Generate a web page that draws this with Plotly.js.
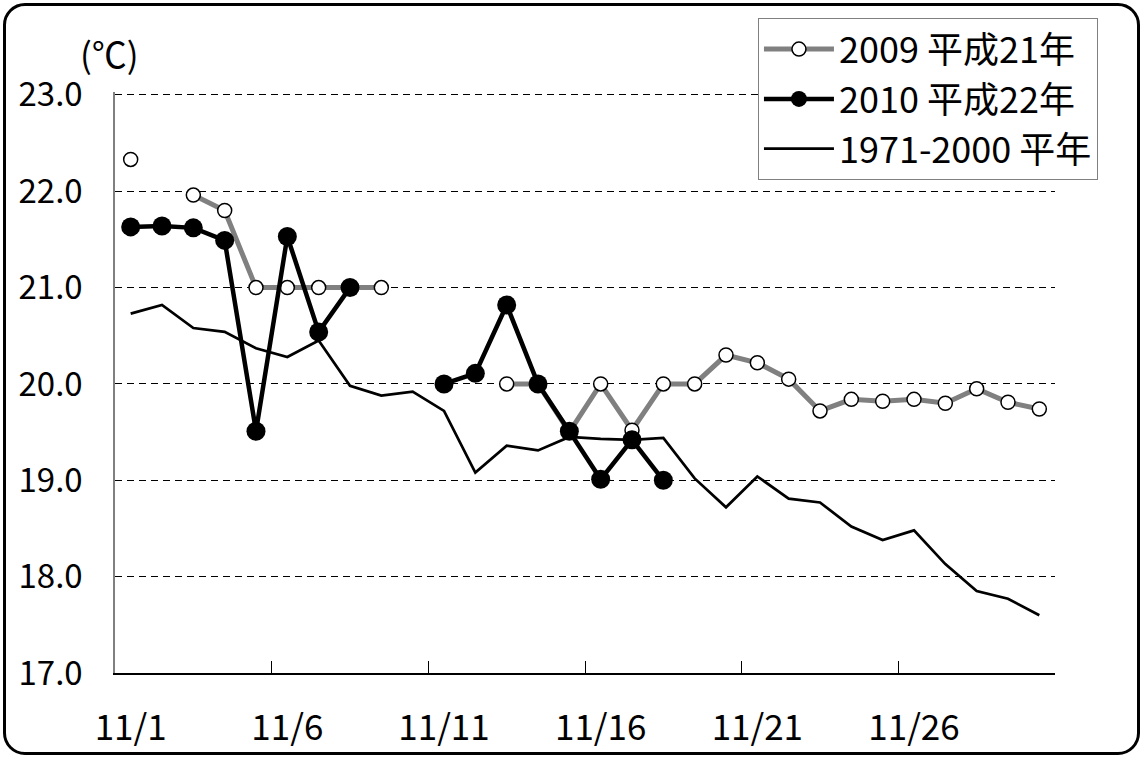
<!DOCTYPE html>
<html>
<head>
<meta charset="utf-8">
<script src="https://cdn.plot.ly/plotly-3.0.1.min.js"></script>
<style>
html,body{margin:0;padding:0;background:#fff;}
#wrap{position:relative;width:1143px;height:758px;}
#chart{position:absolute;left:0;top:0;width:1143px;height:758px;}
#frame{position:absolute;left:3px;top:3px;width:1137px;height:752px;box-sizing:border-box;border:3px solid #000;border-radius:22px;pointer-events:none;}
</style>
</head>
<body>
<div id="wrap"><div id="chart"></div><div id="frame"></div></div>
<script>
// Days of November
const days = [1,2,3,4,5,6,7,8,9,10,11,12,13,14,15,16,17,18,19,20,21,22,23,24,25,26,27,28,29,30];
const tickDays = [1,6,11,16,21,26];
const tickLabels = ["11/1","11/6","11/11","11/16","11/21","11/26"];
const boundaryTicks = [0.5,5.5,10.5,15.5,20.5,25.5,30.5];
const yTicks = [17,18,19,20,21,22,23];

const name2009 = "2009 平成21年";
const name2010 = "2010 平成22年";
const nameNormal = "1971-2000 平年";

const temp2009 = [22.33,null,21.96,21.80,21.0,21.0,21.0,21.0,21.0,null,null,null,20.0,20.0,19.5,20.0,19.52,20.0,20.0,20.30,20.22,20.05,19.72,19.84,19.82,19.84,19.80,19.95,19.81,19.74];
const temp2010 = [21.63,21.64,21.62,21.49,19.51,21.53,20.54,21.0,null,null,20.0,20.11,20.82,20.0,19.51,19.01,19.42,19.0,null,null,null,null,null,null,null,null,null,null,null,null];
const tempNormal = [20.73,20.82,20.58,20.54,20.37,20.28,20.45,19.98,19.88,19.92,19.72,19.08,19.36,19.31,19.45,19.43,19.42,19.44,19.02,18.72,19.04,18.81,18.77,18.52,18.38,18.48,18.13,17.85,17.77,17.60];

const FONT = '"Noto Sans CJK JP", "Noto Sans", sans-serif';

const traces = [
  {x: days, y: tempNormal, name: nameNormal, type: 'scatter', mode: 'lines',
   line: {color: '#000', width: 2.7}, legendrank: 3, legendgroup: 'c', connectgaps: false, hoverinfo: 'skip'},
  {x: days, y: temp2009, name: name2009, type: 'scatter', mode: 'lines+markers',
   line: {color: '#808080', width: 5}, connectgaps: false,
   marker: {symbol: 'circle', size: 14, color: '#fff', line: {color: '#000', width: 1.5}},
   legendrank: 1, legendgroup: 'a', hoverinfo: 'skip'},
  {x: days, y: temp2010, name: name2010, type: 'scatter', mode: 'lines+markers',
   line: {color: '#000', width: 4.5}, connectgaps: false,
   marker: {symbol: 'circle', size: 19, color: '#000'},
   legendrank: 2, legendgroup: 'b', hoverinfo: 'skip'},
  // carrier for the category-boundary tick axis (draws nothing)
  {x: [], y: [], xaxis: 'x2', yaxis: 'y', type: 'scatter', mode: 'lines', showlegend: false, hoverinfo: 'skip'}
];

const layout = {
  width: 1143, height: 758,
  margin: {l: 115, r: 88, t: 92, b: 85},
  paper_bgcolor: '#fff', plot_bgcolor: '#fff',
  font: {family: FONT, color: '#000', size: 30},
  showlegend: true,
  legend: {
    x: 0.684, y: 1.127, xanchor: 'left', yanchor: 'top',
    bordercolor: '#808080', borderwidth: 1, bgcolor: '#fff',
    font: {family: FONT, size: 36, color: '#000'},
    traceorder: 'grouped', tracegroupgap: 0, itemwidth: 70
  },
  xaxis: {
    range: [0.5, 30.5], tickmode: 'array', tickvals: tickDays, ticktext: tickLabels,
    ticks: '', showgrid: false, zeroline: false,
    showline: true, linecolor: '#000', linewidth: 1.5,
    tickfont: {family: FONT, size: 35}, ticklabelstandoff: 23
  },
  xaxis2: {
    overlaying: 'x', anchor: 'y', side: 'bottom',
    range: [0.5, 30.5], tickmode: 'array', tickvals: boundaryTicks,
    ticks: 'inside', ticklen: 12, tickcolor: '#000', tickwidth: 1,
    showticklabels: false, showgrid: false, zeroline: false, showline: false
  },
  yaxis: {
    range: [17, 23.03], tickmode: 'array', tickvals: yTicks, tickformat: '.1f',
    ticks: '', showgrid: true, gridcolor: '#000', gridwidth: 1, griddash: '7px,5px',
    zeroline: false, showline: true, linecolor: '#808080', linewidth: 1.5,
    tickfont: {family: FONT, size: 33}, ticklabelstandoff: 24
  },
  annotations: [
    {text: '(℃)', xref: 'paper', yref: 'paper', x: 0, y: 1, xanchor: 'right', yanchor: 'middle',
     xshift: 26, yshift: 40, showarrow: false, font: {family: FONT, size: 35, color: '#000'}}
  ]
};

Plotly.newPlot('chart', traces, layout, {displayModeBar: false, responsive: false});
</script>
</body>
</html>
